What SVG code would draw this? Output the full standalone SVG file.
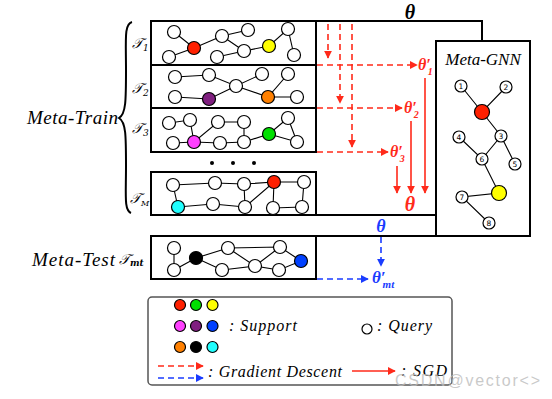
<svg xmlns="http://www.w3.org/2000/svg" width="552" height="399" viewBox="0 0 552 399">
<style>
.bx{fill:none;stroke:#000;stroke-width:2}
.e{stroke:#000;stroke-width:1.1;fill:none}
.n{fill:#fff;stroke:#000;stroke-width:1.2}
.m{font-family:"Liberation Serif","DejaVu Serif",serif;font-style:italic}
.t{font-family:"DejaVu Serif","Liberation Serif",serif;font-style:italic;font-size:14px}
.rd{stroke:#ff2a1a;stroke-width:1.6;fill:none;stroke-dasharray:6 4}
.rs{stroke:#ff2a1a;stroke-width:1.6;fill:none}
.bd{stroke:#1a3cff;stroke-width:1.6;fill:none;stroke-dasharray:6 4}
.num{font-family:"DejaVu Sans",sans-serif;font-size:7.5px;text-anchor:middle}
</style>
<defs>
<marker id="ar" viewBox="0 0 10 10" refX="9" refY="5" markerWidth="8" markerHeight="8" markerUnits="userSpaceOnUse" orient="auto"><path d="M0,0L10,5L0,10z" fill="#ff2a1a"/></marker>
<marker id="ab" viewBox="0 0 10 10" refX="9" refY="5" markerWidth="8" markerHeight="8" markerUnits="userSpaceOnUse" orient="auto"><path d="M0,0L10,5L0,10z" fill="#1a3cff"/></marker>
</defs>
<rect width="552" height="399" fill="#fff"/>

<!-- labels -->
<text class="m" x="27" y="124" font-size="19" textLength="91">Meta-Train</text>
<path d="M132,22 C124,24 126,40 126,70 C126,100 126,114 119,118 C126,122 126,136 126,166 C126,196 124,210 131,213" fill="none" stroke="#000" stroke-width="2"/>
<text class="t" x="132" y="48">𝒯<tspan font-size="9" dy="3">1</tspan></text>
<text class="t" x="132" y="93">𝒯<tspan font-size="9" dy="3">2</tspan></text>
<text class="t" x="132" y="133">𝒯<tspan font-size="9" dy="3">3</tspan></text>
<text class="t" x="130" y="203">𝒯<tspan font-size="8" dy="3">M</tspan></text>
<text class="m" x="32" y="266" font-size="19" textLength="83">Meta-Test</text>
<text class="t" x="119" y="264">𝒯<tspan font-size="9" dy="2" font-weight="bold">mt</tspan></text>

<!-- frame -->
<g id="frame">
<path class="bx" d="M151,21 H482 V41"/>
<path class="bx" d="M316,21 V152"/>
<path class="bx" d="M151,215 H436"/>
<path class="bx" d="M151,236 H530"/>
</g>

<!-- connectors -->
<g id="connectors">
<path class="rd" d="M328,24 V58" marker-end="url(#ar)"/>
<path class="rd" d="M340,24 V103" marker-end="url(#ar)"/>
<path class="rd" d="M352,24 V147" marker-end="url(#ar)"/>
<path class="rd" d="M317,65 H417" marker-end="url(#ar)"/>
<path class="rd" d="M317,108 H402" marker-end="url(#ar)"/>
<path class="rd" d="M317,152 H388" marker-end="url(#ar)"/>
<path class="rs" d="M425,78 V193" marker-end="url(#ar)"/>
<path class="rs" d="M411,121 V193" marker-end="url(#ar)"/>
<path class="rs" d="M397,166 V193" marker-end="url(#ar)"/>
<path class="bd" d="M381,237 V266" marker-end="url(#ab)"/>
<path class="bd" d="M317,279 H368" marker-end="url(#ab)"/>
</g>

<!-- parameter labels -->
<text class="m" x="410" y="19" font-size="20" font-weight="bold" text-anchor="middle">θ</text>
<text class="m" x="418" y="70" font-size="16" font-weight="bold" fill="#ff2a1a">θ′<tspan font-size="10" dx="-3" dy="5">1</tspan></text>
<text class="m" x="404" y="113" font-size="16" font-weight="bold" fill="#ff2a1a">θ′<tspan font-size="10" dx="-3" dy="5">2</tspan></text>
<text class="m" x="390" y="157" font-size="16" font-weight="bold" fill="#ff2a1a">θ′<tspan font-size="10" dx="-3" dy="5">3</tspan></text>
<text class="m" x="410" y="211" font-size="20" font-weight="bold" fill="#ff2a1a" text-anchor="middle">θ</text>
<text class="m" x="381" y="232" font-size="18" font-weight="bold" fill="#1a3cff" text-anchor="middle">θ</text>
<text class="m" x="372" y="283" font-size="17" font-weight="bold" fill="#1a3cff">θ′<tspan font-size="11" dx="-3" dy="5">mt</tspan></text>

<!-- T1 -->
<g id="task1">
<rect class="bx" x="151" y="21" width="165" height="44"/>
<path class="e" d="M174,32L194,48M169,57L194,48L222,36L248,30M222,36L244,51M217,57L244,51L269,46L288,29L294,55"/>
<circle class="n" cx="174" cy="32" r="6.5"/><circle class="n" cx="194" cy="48" r="6.5" style="fill:#ff2000"/>
<circle class="n" cx="169" cy="57" r="6.5"/><circle class="n" cx="222" cy="36" r="6.5"/>
<circle class="n" cx="248" cy="30" r="6.5"/><circle class="n" cx="217" cy="57" r="6.5"/>
<circle class="n" cx="244" cy="51" r="6.5"/><circle class="n" cx="269" cy="46" r="6.5" style="fill:#ffff00"/>
<circle class="n" cx="288" cy="29" r="6.5"/><circle class="n" cx="294" cy="55" r="6.5"/>
</g>

<!-- T2 -->
<g id="task2">
<rect class="bx" x="151" y="65" width="165" height="43"/>
<path class="e" d="M175,77L209,75L236,86L262,74M236,86L209,99L175,97M236,86L268,97L288,74M268,97L297,97"/>
<circle class="n" cx="175" cy="77" r="6.5"/><circle class="n" cx="209" cy="75" r="6.5"/>
<circle class="n" cx="236" cy="86" r="6.5"/><circle class="n" cx="262" cy="74" r="6.5"/>
<circle class="n" cx="288" cy="74" r="6.5"/><circle class="n" cx="175" cy="97" r="6.5"/>
<circle class="n" cx="209" cy="99" r="6.5" style="fill:#7f1f7f"/><circle class="n" cx="268" cy="97" r="6.5" style="fill:#ff8000"/>
<circle class="n" cx="297" cy="97" r="6.5"/>
</g>

<!-- T3 -->
<g id="task3">
<rect class="bx" x="151" y="108" width="165" height="44"/>
<path class="e" d="M169,123L190,120L194,142L218,122L244,122L244,142M173,143L194,142L220,143L244,142L269,134L288,118L297,142L269,134"/>
<circle class="n" cx="169" cy="123" r="6.5"/><circle class="n" cx="190" cy="120" r="6.5"/>
<circle class="n" cx="218" cy="122" r="6.5"/><circle class="n" cx="244" cy="122" r="6.5"/>
<circle class="n" cx="288" cy="118" r="6.5"/><circle class="n" cx="173" cy="143" r="6.5"/>
<circle class="n" cx="194" cy="142" r="6.5" style="fill:#ff40ff"/><circle class="n" cx="220" cy="143" r="6.5"/>
<circle class="n" cx="244" cy="142" r="6.5"/><circle class="n" cx="269" cy="134" r="6.5" style="fill:#00e000"/>
<circle class="n" cx="297" cy="142" r="6.5"/>
</g>

<!-- dots -->
<g id="ellipsis">
<circle cx="212" cy="163" r="2"/><circle cx="233" cy="163" r="2"/><circle cx="254" cy="163" r="2"/>
</g>

<!-- TM -->
<g id="taskM">
<rect class="bx" x="151" y="172" width="165" height="43"/>
<path class="e" d="M173,185L215,183L244,184L274,182L304,182L302,207L273,208L274,182L245,207L244,184M173,185L178,207L213,204L245,207"/>
<circle class="n" cx="173" cy="185" r="6.5"/><circle class="n" cx="215" cy="183" r="6.5"/>
<circle class="n" cx="244" cy="184" r="6.5"/><circle class="n" cx="274" cy="182" r="6.5" style="fill:#ff2000"/>
<circle class="n" cx="304" cy="182" r="6.5"/><circle class="n" cx="178" cy="207" r="6.5" style="fill:#20ffff"/>
<circle class="n" cx="213" cy="204" r="6.5"/><circle class="n" cx="245" cy="207" r="6.5"/>
<circle class="n" cx="273" cy="208" r="6.5"/><circle class="n" cx="302" cy="207" r="6.5"/>
</g>

<!-- Meta-test -->
<g id="taskTest">
<rect class="bx" x="151" y="236" width="165" height="43"/>
<path class="e" d="M174,248L174,270L196,258L228,248L280,247L301,261L279,270L255,266L280,247M196,258L222,270L255,266L228,248"/>
<circle class="n" cx="174" cy="248" r="6.5"/><circle class="n" cx="174" cy="270" r="6.5"/>
<circle class="n" cx="196" cy="258" r="6.5" style="fill:#000"/><circle class="n" cx="228" cy="248" r="6.5"/>
<circle class="n" cx="222" cy="270" r="6.5"/><circle class="n" cx="255" cy="266" r="6.5"/>
<circle class="n" cx="280" cy="247" r="6.5"/><circle class="n" cx="279" cy="270" r="6.5"/>
<circle class="n" cx="301" cy="261" r="6.5" style="fill:#0040ff"/>
</g>

<!-- Meta-GNN -->
<g id="metaGNN">
<rect class="bx" x="436" y="41" width="94" height="195"/>
<text class="m" x="483" y="65" font-size="17" text-anchor="middle">Meta-GNN</text>
<path class="e" d="M461,86L482,112L506,87M482,112L501,136L482,159L459,137M501,136L515,164M482,159L499,193L462,197L489,223"/>
<circle class="n" cx="461" cy="86" r="6"/><text class="num" x="461" y="88.7">1</text>
<circle class="n" cx="506" cy="87" r="6"/><text class="num" x="506" y="89.7">2</text>
<circle class="n" cx="482" cy="112" r="7.5" style="fill:#ff2000"/>
<circle class="n" cx="501" cy="136" r="6"/><text class="num" x="501" y="138.7">3</text>
<circle class="n" cx="459" cy="137" r="6"/><text class="num" x="459" y="139.7">4</text>
<circle class="n" cx="515" cy="164" r="6"/><text class="num" x="515" y="166.7">5</text>
<circle class="n" cx="482" cy="159" r="6"/><text class="num" x="482" y="161.7">6</text>
<circle class="n" cx="499" cy="193" r="7.5" style="fill:#ffff00"/>
<circle class="n" cx="462" cy="197" r="6"/><text class="num" x="462" y="199.7">7</text>
<circle class="n" cx="489" cy="223" r="6"/><text class="num" x="489" y="225.7">8</text>
</g>

<!-- legend -->
<g id="legend">
<rect x="148" y="297" width="304" height="88" rx="4" fill="none" stroke="#555" stroke-width="1.5"/>
<circle class="n" cx="180" cy="305" r="5.5" style="fill:#ff2000"/><circle class="n" cx="196" cy="305" r="5.5" style="fill:#00e000"/><circle class="n" cx="212.5" cy="305" r="5.5" style="fill:#ffff00"/>
<circle class="n" cx="180" cy="326" r="5.5" style="fill:#ff40ff"/><circle class="n" cx="196" cy="326" r="5.5" style="fill:#7f1f7f"/><circle class="n" cx="212.5" cy="326" r="5.5" style="fill:#0040ff"/>
<circle class="n" cx="180" cy="347" r="5.5" style="fill:#ff8000"/><circle class="n" cx="196" cy="347" r="5.5" style="fill:#000"/><circle class="n" cx="212.5" cy="347" r="5.5" style="fill:#20ffff"/>
<text class="m" x="229" y="331" font-size="16" textLength="68">: Support</text>
<circle class="n" cx="367" cy="329" r="5"/>
<text class="m" x="377" y="331" font-size="16" textLength="55">: Query</text>
<path class="rd" d="M158,366 H203" marker-end="url(#ar)"/>
<path class="bd" d="M158,378 H203" marker-end="url(#ab)"/>
<text class="m" x="208" y="377" font-size="16" textLength="134">: Gradient Descent</text>
<path class="rs" d="M352,371 H395" marker-end="url(#ar)"/>
<text class="m" x="401" y="376" font-size="16" textLength="46">: SGD</text>
</g>
<text x="395" y="386" font-family="'Liberation Sans',sans-serif" font-size="16" fill="#bbb" fill-opacity="0.8" textLength="145">CSDN@vector&lt;&gt;</text>
</svg>
